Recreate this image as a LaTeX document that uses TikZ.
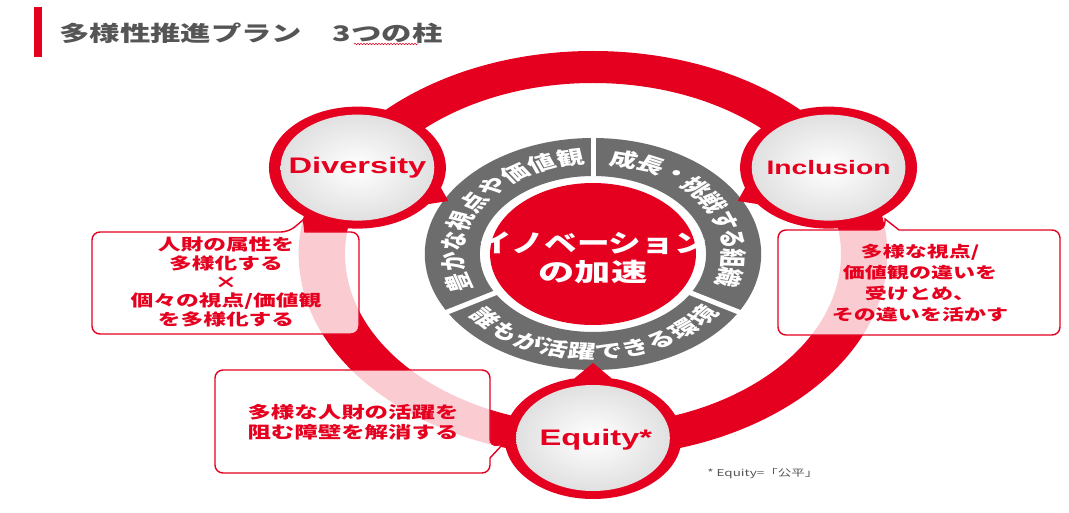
\documentclass[tikz,border=0pt]{standalone}
\usepackage{fontspec}
\usetikzlibrary{decorations.pathmorphing}
\newfontfamily\jp{Noto Sans CJK JP}
\newfontfamily\lat{Liberation Sans}
\definecolor{myred}{RGB}{230,0,32}
\definecolor{ringgray}{RGB}{109,109,109}
\definecolor{titlegray}{RGB}{85,85,85}
\tikzset{
  wide/.style={xscale=1.42},
  pillar/.style={transform shape, text=myred, inner sep=0pt},
  arcchar/.style={transform shape, text=white, inner sep=0pt, font=\jp\bfseries\fontsize{19}{19}\selectfont},
  coretext/.style={transform shape, text=white, inner sep=0pt, font=\jp\bfseries\fontsize{25}{29}\selectfont},
  boxline/.style={fill=white, fill opacity=0.8, draw=myred, line width=1.4pt},
  boxtext/.style={wide, text=myred, align=center, inner sep=0pt},
  pillarring/.style={fill=myred},
  pillarface/.style={inner color=white, outer color=black!12},
}
\begin{document}
\begin{tikzpicture}[x=1pt,y=1pt]
\useasboundingbox (0,0) rectangle (1069,-513);
\fill[white] (0,0) rectangle (1069,-513);

% title
\fill[myred] (34,-7) rectangle (42,-57);
\node[anchor=west, wide, text=titlegray, inner sep=0pt, font=\jp\bfseries\fontsize{21.4}{23}\selectfont] (title) at (59,-33) {多様性推進プラン　3つの柱};
\draw[myred, line width=0.5pt, decorate, decoration={snake, amplitude=0.8pt, segment length=3pt}] (354,-44) -- (418,-44);

\begin{scope}[shift={(593,-254)}, xscale=1.45]
  % big ring
  \fill[myred, even odd rule] (0,0) circle (203) (0,0) circle (171);
  % pillar circles
  \foreach \a in {152,28,270} {
    \fill[pillarring] (\a:184) circle (61);
    \shade[pillarface] (\a:184) circle (53);
  }
  \node[pillar, font=\lat\bfseries\fontsize{22.5}{24}\selectfont] (div) at (152:184) {Diversity};
  \node[pillar, font=\lat\bfseries\fontsize{19.5}{22}\selectfont] (inc) at (28:184) {Inclusion};
  \node[pillar, font=\lat\bfseries\fontsize{22.5}{24}\selectfont] (equ) at (2,-186) {Equity*};

  % gray ring
  \fill[ringgray, even odd rule] (0,0) circle (116) (0,0) circle (78);
  \foreach \a in {90,210,330} \draw[white, line width=5pt] (\a:74) -- (\a:121);
  % red core
  \fill[myred] (0,0) circle (71);
  \node[coretext, xscale=0.9] (core1) at (0,11) {イノベーション};
  \node[coretext] (core2) at (0,-18) {の加速};

  % arrows into gray ring
  \begin{scope}[rotate=152] \fill[myred] (113,0) -- (128,13) -- (128,-13) -- cycle; \end{scope}
  \begin{scope}[rotate=28] \fill[myred] (113,0) -- (128,13) -- (128,-13) -- cycle; \end{scope}
  \begin{scope}[rotate=270] \fill[myred] (109,0) -- (124,12.5) -- (124,-12.5) -- cycle; \end{scope}

  % arc texts
  \foreach \ch [count=\i] in {豊,か,な,視,点,や,価,値,観}
    \node[arcchar, rotate={196.8-(\i-1)*12.2-90}] (l\i) at ({196.8-(\i-1)*12.2}:97) {\ch};
  \foreach \ch [count=\i] in {成,長,・,挑,戦,す,る,組,織}
    \node[arcchar, rotate={77.1-(\i-1)*11.4-90}] (r\i) at ({77.1-(\i-1)*11.4}:97) {\ch};
  \foreach \ch [count=\i] in {誰,も,が,活,躍,で,き,る,環,境}
    \node[arcchar, rotate={221+(\i-1)*11.1+90}] (b\i) at ({221+(\i-1)*11.1}:98) {\ch};
\end{scope}

% callout boxes
\draw[boxline] (92,-283) [rounded corners=8pt] |- (289,-232) [sharp corners] -- (303.5,-219.5) -- (305,-232) [rounded corners=8pt] -| (359,-334) -| (92,-283) -- cycle;
\node[boxtext, font=\jp\bfseries\fontsize{16}{18.7}\selectfont] (dtext) at (226,-282) {人財の属性を\\多様化する\\×\\個々の視点/価値観\\を多様化する};

\draw[boxline] (778,-283) [rounded corners=8pt] |- (885,-230) [sharp corners] -- (885,-219) -- (899,-230) [rounded corners=8pt] -| (1060,-335) -| (778,-283) -- cycle;
\node[boxtext, font=\jp\bfseries\fontsize{15.5}{21}\selectfont] (itext) at (920,-283) {多様な視点/\\価値観の違いを\\受けとめ、\\その違いを活かす};

\draw[boxline] (215,-420) [rounded corners=8pt] |- (490,-370) -- (490,-447) [sharp corners] -- (503,-444) -- (490,-458) [rounded corners=8pt] |- (215,-473) -- (215,-420) -- cycle;
\node[boxtext, font=\jp\bfseries\fontsize{16.5}{20}\selectfont] (etext) at (353,-422) {多様な人財の活躍を\\阻む障壁を解消する};

% footnote
\node[anchor=west, wide, text=titlegray, inner sep=0pt, font=\jp\fontsize{9.5}{11}\selectfont] (note) at (707,-474) {* Equity=「公平」};
\end{tikzpicture}
\end{document}
